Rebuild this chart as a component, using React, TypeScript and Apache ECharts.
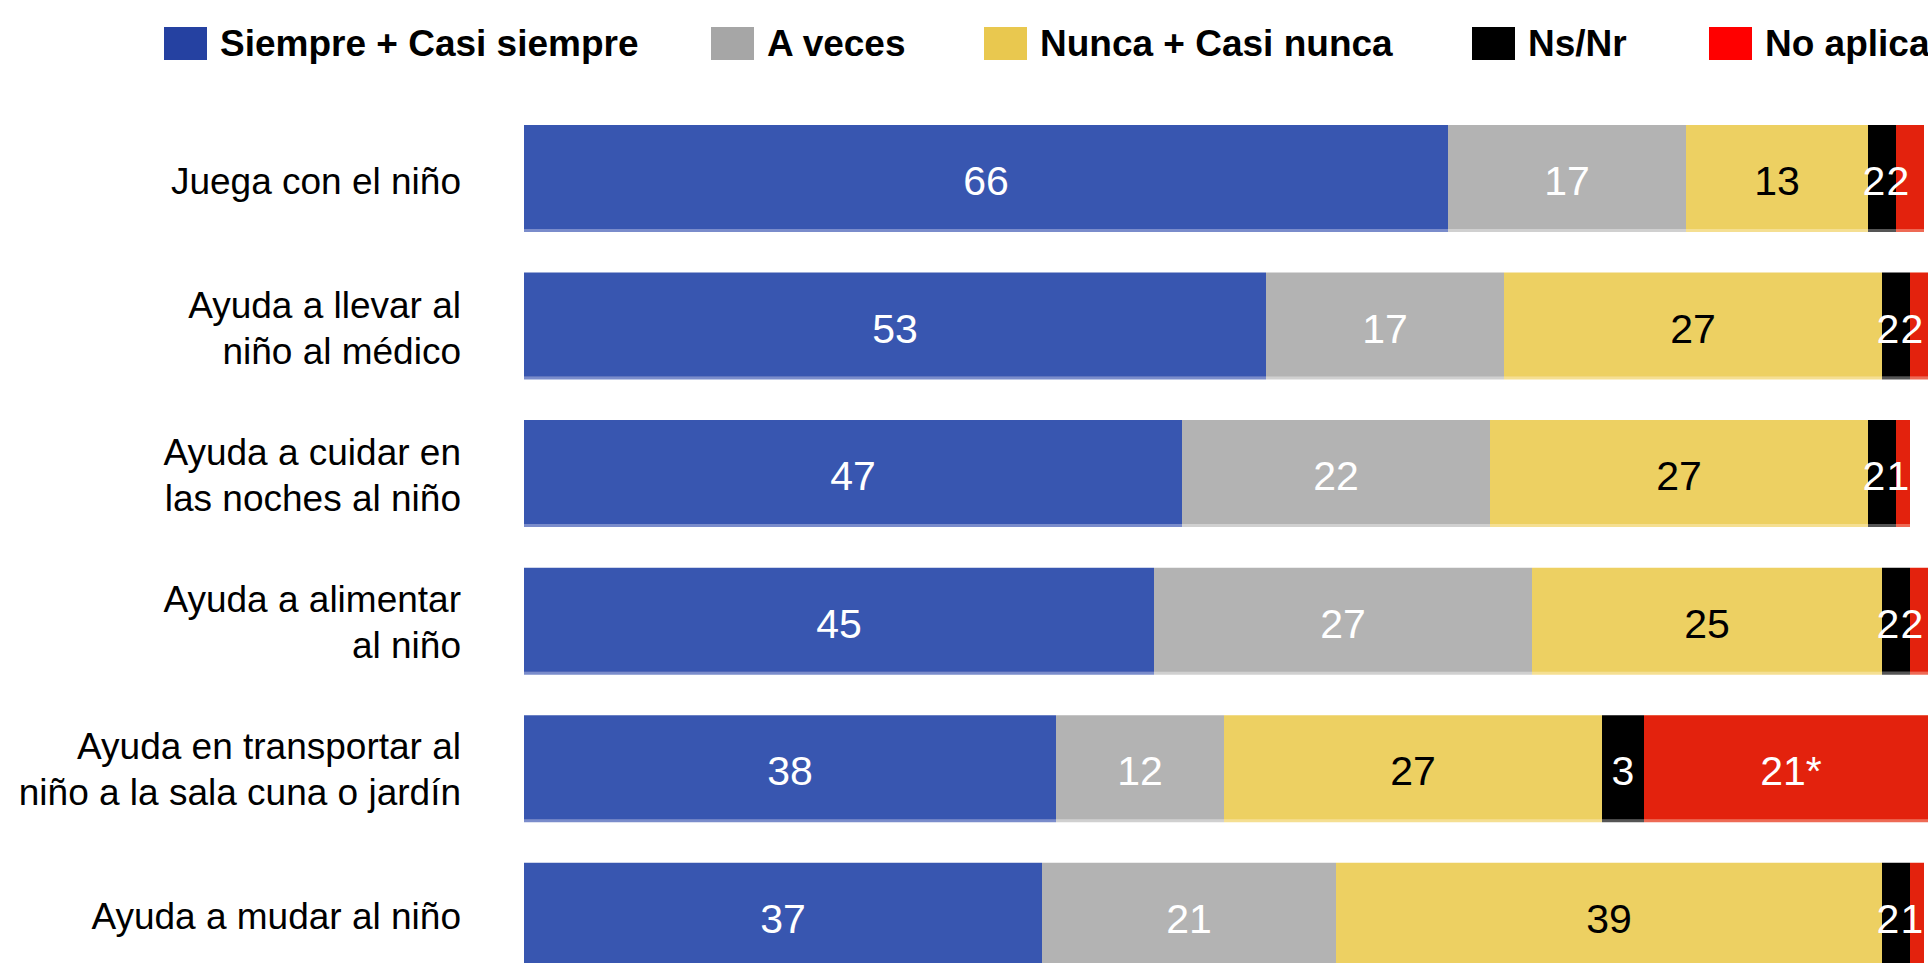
import React, { useEffect, useRef } from "react";
import * as echarts from "echarts";

const categories = [
  "Juega con el niño",
  "Ayuda a llevar al\nniño al médico",
  "Ayuda a cuidar en\nlas noches al niño",
  "Ayuda a alimentar\nal niño",
  "Ayuda en transportar al\nniño a la sala cuna o jardín",
  "Ayuda a mudar al niño",
];

const seriesNames = [
  "Siempre + Casi siempre",
  "A veces",
  "Nunca + Casi nunca",
  "Ns/Nr",
  "No aplica",
];

const siempre = [66, 53, 47, 45, 38, 37];
const aVeces = [17, 17, 22, 27, 12, 21];
const nunca = [13, 27, 27, 25, 27, 39];
const nsnr = [2, 2, 2, 2, 3, 2];
const noAplica = [2, 2, 1, 2, 21, 1];
const noAplicaNote = ["", "", "", "", "*", ""];

const barColors = ["#3956B0", "#B3B3B3", "#EDD062", "#000000", "#E32207"];
const stripColors = ["#7A8CCB", "#D0D0D0", "#F5DF92", "#555555", "#EE6A55"];
const labelColors = ["#ffffff", "#ffffff", "#000000", "#ffffff", "#ffffff"];
const legendColors = ["#2541A1", "#A6A6A6", "#E9C84F", "#000000", "#FF0000"];
const legendLefts = [164, 711, 984, 1472, 1709];
const SMALL = 3;

const FONT = "'Liberation Sans', Arial, sans-serif";

const GRID_LEFT = 524;
const GRID_TOP = 103.2;
const GRID_W = 1400;
const GRID_H = 885.3;
const LABEL_SHIFT = 5;

export default function App() {
  const ref = useRef<HTMLDivElement>(null);

  useEffect(() => {
    if (!ref.current) return;
    const chart = echarts.init(ref.current, undefined, { renderer: "svg" });
    const values = [siempre, aVeces, nunca, nsnr, noAplica];

    const buildData = (arr: number[], i: number) =>
      arr.map((v) => {
        if (v >= SMALL) return v;
        if (i === 3) return { value: v, label: { offset: [-8, 4] } };
        if (i === 4)
          return {
            value: v,
            label: {
              position: [0, "50%"],
              align: "center",
              verticalAlign: "middle",
              offset: [2, 4],
            },
          };
        return v;
      });

    const option: any = {
      animation: false,
      backgroundColor: "#ffffff",
      legend: seriesNames.map((n, i) => ({
        show: true,
        left: legendLefts[i],
        top: 25,
        padding: 0,
        itemWidth: 43,
        itemHeight: 33,
        icon: "rect",
        selectedMode: false,
        data: [{ name: n, itemStyle: { color: legendColors[i] } }],
        textStyle: {
          fontSize: 37,
          fontWeight: "bold",
          fontFamily: FONT,
          color: "#000000",
          padding: [0, 0, 0, 8],
          lineHeight: 33,
        },
      })),
      grid: [
        { left: GRID_LEFT, top: GRID_TOP, width: GRID_W, height: GRID_H },
        {
          left: GRID_LEFT,
          top: GRID_TOP + LABEL_SHIFT,
          width: GRID_W,
          height: GRID_H,
        },
      ],
      xAxis: [
        { type: "value", min: 0, max: 100, show: false, gridIndex: 0 },
        { type: "value", min: 0, max: 100, show: false, gridIndex: 1 },
      ],
      yAxis: [
        {
          type: "category",
          gridIndex: 0,
          inverse: true,
          data: categories,
          axisLine: { show: false },
          axisTick: { show: false },
          splitLine: { show: false },
          axisLabel: { show: false },
        },
        {
          type: "category",
          gridIndex: 1,
          inverse: true,
          data: categories,
          axisLine: { show: false },
          axisTick: { show: false },
          splitLine: { show: false },
          axisLabel: {
            fontSize: 37,
            fontFamily: FONT,
            color: "#000000",
            lineHeight: 46,
            margin: 63,
          },
        },
      ],
      series: values.map((arr, i) => ({
        name: seriesNames[i],
        type: "bar",
        stack: "total",
        xAxisIndex: 0,
        yAxisIndex: 0,
        barWidth: 104,
        clip: false,
        data: buildData(arr, i),
        itemStyle: {
          color: barColors[i],
          shadowColor: stripColors[i],
          shadowOffsetY: 3,
          shadowBlur: 0,
        },
        label: {
          show: true,
          position: "inside",
          offset: [0, 4],
          fontSize: 41,
          fontFamily: FONT,
          color: labelColors[i],
          formatter: (p: any) =>
            i === 4 ? `${p.value}${noAplicaNote[p.dataIndex]}` : `${p.value}`,
        },
      })),
    };

    chart.setOption(option);
    return () => chart.dispose();
  }, []);

  return (
    <div
      style={{
        position: "fixed",
        left: 0,
        top: 0,
        width: 1928,
        height: 963,
        overflow: "hidden",
        background: "#fff",
      }}
    >
      <div ref={ref} style={{ width: 1940, height: 990 }} />
    </div>
  );
}
